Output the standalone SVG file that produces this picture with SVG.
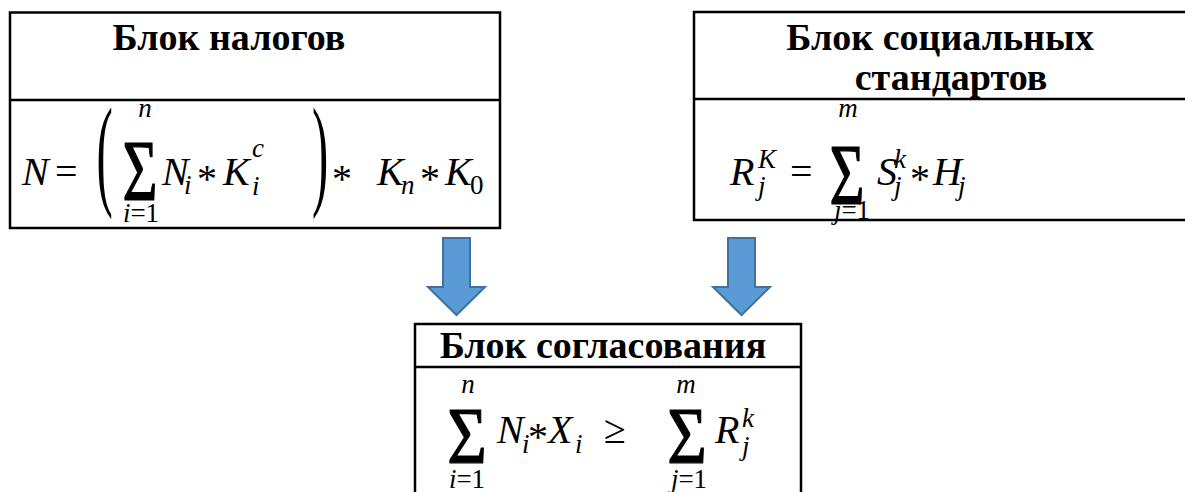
<svg xmlns="http://www.w3.org/2000/svg" width="1185" height="492" viewBox="0 0 1185 492">
<style>
.box{fill:#fff;stroke:#000;stroke-width:2.5}
.div{stroke:#000;stroke-width:2.5}
.t{font-family:"Liberation Serif",serif;font-weight:bold;font-size:38px;fill:#000;text-anchor:middle}
.m{font-family:"Liberation Serif",serif;font-style:italic;font-size:40px;fill:#000}
.u{font-family:"Liberation Serif",serif;font-style:normal;font-size:40px;fill:#000}
.s{font-family:"Liberation Serif",serif;font-style:italic;font-size:27px;fill:#000}
.su{font-style:normal}
.c{text-anchor:middle}
.big{font-size:122px}
.sig{font-size:86px;stroke:#000;stroke-width:1.2}
.sig2{font-size:80px;stroke:#000;stroke-width:1.2}
.arr{fill:#5B9BD5;stroke:#41719C;stroke-width:2;stroke-linejoin:miter}
</style>

<g id="connectors">
<polygon class="arr" points="443,238 470,238 470,287 485,287 456.5,315 428,287 443,287"/>
<polygon class="arr" points="728,238 755,238 755,287 770,287 741.5,315 713,287 728,287"/>
</g>

<g id="block-taxes">
<rect class="box" x="10" y="12.5" width="490" height="215.5"/>
<line class="div" x1="10" y1="100" x2="500" y2="100"/>
<text class="t" x="229" y="50">Блок налогов</text>
<text class="m" x="22" y="185">N</text>
<text class="u" x="55" y="185">=</text>
<text class="u c big" transform="translate(104.5,193) scale(0.4,1)">(</text>
<text class="u c sig" transform="translate(140,200) scale(0.7,1)">Σ</text>
<text class="s c" x="145" y="117">n</text>
<text class="s c" x="141" y="222">i<tspan class="su">=1</tspan></text>
<text class="m" x="162" y="185">N</text>
<text class="s" x="184" y="194">i</text>
<text class="u c" x="207" y="192">*</text>
<text class="m" x="223" y="185">K</text>
<text class="s" x="252" y="157">c</text>
<text class="s" x="252" y="195">i</text>
<text class="u c big" transform="translate(320,193) scale(0.4,1)">)</text>
<text class="u c" x="342" y="192">*</text>
<text class="m" x="377" y="185">K</text>
<text class="s" x="401" y="194">n</text>
<text class="u c" x="430" y="192">*</text>
<text class="m" x="445" y="185">K</text>
<text class="s su" x="470" y="194">0</text>
</g>

<g id="block-social">
<rect class="box" x="694" y="12" width="500" height="208"/>
<line class="div" x1="694" y1="99" x2="1194" y2="99"/>
<text class="t" x="940" y="50">Блок социальных</text>
<text class="t" x="951" y="90">стандартов</text>
<text class="m" x="730" y="185">R</text>
<text class="s" x="758" y="168">K</text>
<text class="s" x="758" y="195">j</text>
<text class="u" x="790" y="185">=</text>
<text class="u c sig" transform="translate(847,204) scale(0.7,1)">Σ</text>
<text class="s c" x="848" y="117">m</text>
<text class="s c" x="852" y="219">j<tspan class="su">=1</tspan></text>
<text class="m" x="877" y="185">S</text>
<text class="s" x="894" y="168">k</text>
<text class="s" x="894" y="195">j</text>
<text class="u c" x="920" y="192">*</text>
<text class="m" x="933" y="185">H</text>
<text class="s" x="958" y="195">j</text>
</g>

<g id="block-agreement">
<rect class="box" x="415" y="324" width="386" height="190"/>
<line class="div" x1="415" y1="367" x2="801" y2="367"/>
<text class="t" x="603" y="358">Блок согласования</text>
<text class="u c sig2" transform="translate(467,463) scale(0.85,1)">Σ</text>
<text class="s c" x="468" y="393">n</text>
<text class="s c" x="467" y="488">i<tspan class="su">=1</tspan></text>
<text class="m" x="497" y="443">N</text>
<text class="s" x="522" y="453">i</text>
<text class="u c" x="538" y="450">*</text>
<text class="m" x="548" y="443">X</text>
<text class="s" x="575" y="453">i</text>
<text class="u c" x="615" y="443">≥</text>
<text class="u c sig2" transform="translate(687,463) scale(0.85,1)">Σ</text>
<text class="s c" x="686" y="393">m</text>
<text class="s c" x="689" y="488">j<tspan class="su">=1</tspan></text>
<text class="m" x="715" y="443">R</text>
<text class="s" x="742" y="427">k</text>
<text class="s" x="742" y="455">j</text>
</g>
</svg>
